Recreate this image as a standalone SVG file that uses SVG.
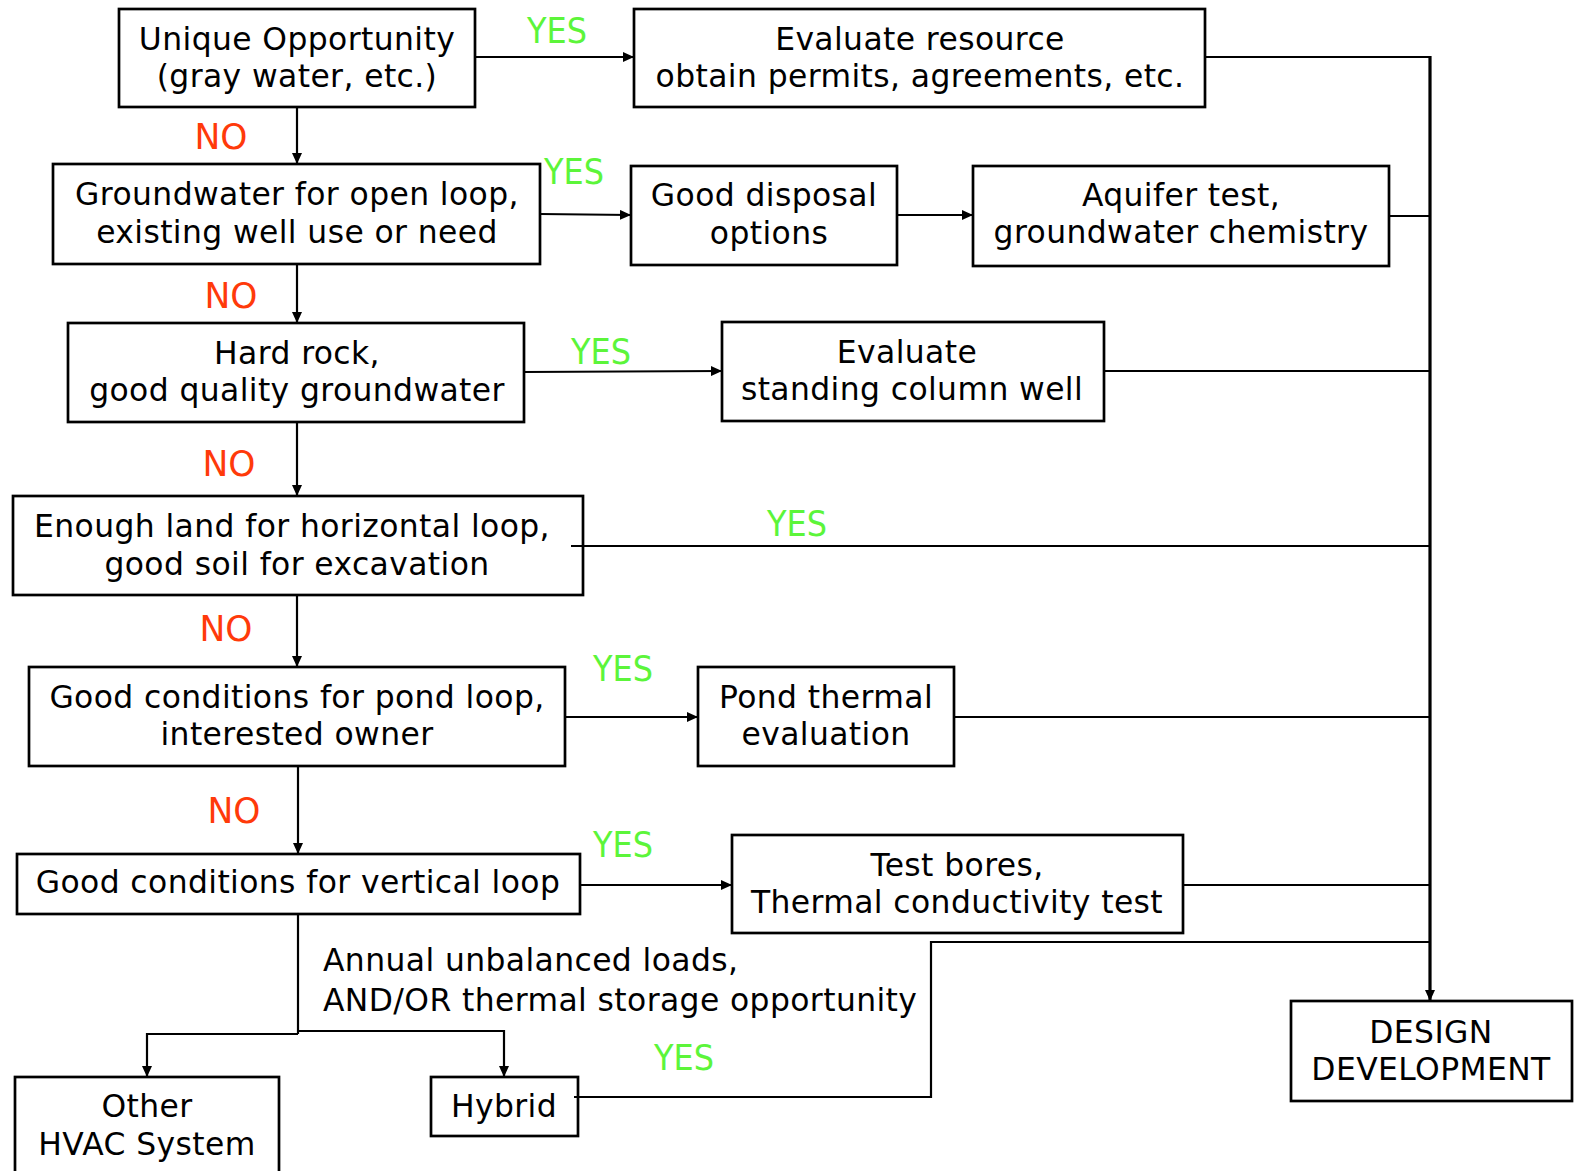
<svg xmlns="http://www.w3.org/2000/svg" width="1578" height="1171" viewBox="0 0 1578 1171">
<defs>
<marker id="ah" markerUnits="userSpaceOnUse" markerWidth="11" markerHeight="10" refX="11" refY="5" orient="auto">
<path d="M0,0 L11,5 L0,10 z" fill="#000"/>
</marker>
<style>
.box{fill:#fff;stroke:#000;stroke-width:2.7}
.t{font-family:"DejaVu Sans","Verdana",sans-serif;font-size:31.4px;letter-spacing:0.4px;fill:#000;text-anchor:middle}
.tl{text-anchor:start}
.yes{font-family:"DejaVu Sans",sans-serif;font-size:36px;fill:#5CF53A;text-anchor:middle}
.no{font-family:"DejaVu Sans",sans-serif;font-size:35px;fill:#FF3A0A;text-anchor:middle}
.c{fill:none;stroke:#000;stroke-width:2.2}
.arr{marker-end:url(#ah)}
.trunk{fill:none;stroke:#000;stroke-width:3.2}
</style>
</defs>
<rect width="1578" height="1171" fill="#fff"/>

<g id="n-unique">
<rect class="box" x="119" y="9" width="356" height="98"/>
<text class="t" x="297" y="50">Unique Opportunity</text>
<text class="t" x="297" y="87">(gray water, etc.)</text>
</g>
<g id="n-evaluate-resource">
<rect class="box" x="634" y="9" width="571" height="98"/>
<text class="t" x="920" y="50">Evaluate resource</text>
<text class="t" x="920" y="87">obtain permits, agreements, etc.</text>
</g>
<g id="n-groundwater">
<rect class="box" x="53" y="164" width="487" height="100"/>
<text class="t" x="297" y="205">Groundwater for open loop,</text>
<text class="t" x="297" y="243">existing well use or need</text>
</g>
<g id="n-disposal">
<rect class="box" x="631" y="166" width="266" height="99"/>
<text class="t" x="764" y="206">Good disposal</text>
<text class="t" x="769" y="244">options</text>
</g>
<g id="n-aquifer">
<rect class="box" x="973" y="166" width="416" height="100"/>
<text class="t" x="1181" y="206">Aquifer test,</text>
<text class="t" x="1181" y="243">groundwater chemistry</text>
</g>
<g id="n-hardrock">
<rect class="box" x="68" y="323" width="456" height="99"/>
<text class="t" x="297" y="364">Hard rock,</text>
<text class="t" x="297" y="401">good quality groundwater</text>
</g>
<g id="n-scw">
<rect class="box" x="722" y="322" width="382" height="99"/>
<text class="t" x="907" y="363">Evaluate</text>
<text class="t" x="912" y="400">standing column well</text>
</g>
<g id="n-horizontal">
<rect class="box" x="13" y="496" width="570" height="99"/>
<text class="t" x="292" y="537">Enough land for horizontal loop,</text>
<text class="t" x="297" y="575">good soil for excavation</text>
</g>
<g id="n-pond">
<rect class="box" x="29" y="667" width="536" height="99"/>
<text class="t" x="297" y="708">Good conditions for pond loop,</text>
<text class="t" x="297" y="745">interested owner</text>
</g>
<g id="n-pond-eval">
<rect class="box" x="698" y="667" width="256" height="99"/>
<text class="t" x="826" y="708">Pond thermal</text>
<text class="t" x="826" y="745">evaluation</text>
</g>
<g id="n-vertical">
<rect class="box" x="17" y="854" width="563" height="60"/>
<text class="t" x="298" y="893">Good conditions for vertical loop</text>
</g>
<g id="n-testbores">
<rect class="box" x="732" y="835" width="451" height="98"/>
<text class="t" x="957" y="876">Test bores,</text>
<text class="t" x="957" y="913">Thermal conductivity test</text>
</g>
<g id="n-other">
<rect class="box" x="15" y="1077" width="264" height="110"/>
<text class="t" x="147" y="1117">Other</text>
<text class="t" x="147" y="1155">HVAC System</text>
</g>
<g id="n-hybrid">
<rect class="box" x="431" y="1077" width="147" height="59"/>
<text class="t" x="504" y="1117">Hybrid</text>
</g>
<g id="n-design">
<rect class="box" x="1291" y="1001" width="281" height="100"/>
<text class="t" x="1431" y="1043">DESIGN</text>
<text class="t" x="1431" y="1080">DEVELOPMENT</text>
</g>

<g id="connectors">
<line class="c arr" x1="475" y1="57" x2="634" y2="57"/>
<line class="c arr" x1="297" y1="107" x2="297" y2="164"/>
<line class="c arr" x1="540" y1="214" x2="631" y2="215"/>
<line class="c arr" x1="897" y1="215" x2="973" y2="215"/>
<line class="c arr" x1="297" y1="264" x2="297" y2="323"/>
<line class="c arr" x1="524" y1="372" x2="722" y2="371"/>
<line class="c arr" x1="297" y1="422" x2="297" y2="496"/>
<line class="c arr" x1="297" y1="595" x2="297" y2="667"/>
<line class="c arr" x1="565" y1="717" x2="698" y2="717"/>
<line class="c arr" x1="298" y1="766" x2="298" y2="854"/>
<line class="c arr" x1="580" y1="885" x2="732" y2="885"/>
<polyline class="c" points="298,914 298,1034"/>
<polyline class="c arr" points="298,1034 147,1034 147,1077"/>
<polyline class="c arr" points="298,1031 504,1031 504,1077"/>
<line class="c" x1="1205" y1="57" x2="1430" y2="57"/>
<line class="c" x1="1389" y1="216" x2="1430" y2="216"/>
<line class="c" x1="1104" y1="371" x2="1430" y2="371"/>
<line class="c" x1="571" y1="546" x2="1430" y2="546"/>
<line class="c" x1="954" y1="717" x2="1430" y2="717"/>
<line class="c" x1="1183" y1="885" x2="1430" y2="885"/>
<polyline class="c" points="574,1097 931,1097 931,942 1430,942"/>
<line class="trunk arr" x1="1430" y1="56" x2="1430" y2="1001"/>
</g>

<g id="labels">
<text class="yes" x="557" y="43" textLength="60" lengthAdjust="spacingAndGlyphs">YES</text>
<text class="no" x="221" y="149" textLength="53" lengthAdjust="spacingAndGlyphs">NO</text>
<text class="yes" x="574" y="184" textLength="60" lengthAdjust="spacingAndGlyphs">YES</text>
<text class="no" x="231" y="308" textLength="53" lengthAdjust="spacingAndGlyphs">NO</text>
<text class="yes" x="601" y="364" textLength="60" lengthAdjust="spacingAndGlyphs">YES</text>
<text class="no" x="229" y="476" textLength="53" lengthAdjust="spacingAndGlyphs">NO</text>
<text class="yes" x="797" y="536" textLength="60" lengthAdjust="spacingAndGlyphs">YES</text>
<text class="no" x="226" y="641" textLength="53" lengthAdjust="spacingAndGlyphs">NO</text>
<text class="yes" x="623" y="681" textLength="60" lengthAdjust="spacingAndGlyphs">YES</text>
<text class="no" x="234" y="823" textLength="53" lengthAdjust="spacingAndGlyphs">NO</text>
<text class="yes" x="623" y="857" textLength="60" lengthAdjust="spacingAndGlyphs">YES</text>
<text class="yes" x="684" y="1070" textLength="60" lengthAdjust="spacingAndGlyphs">YES</text>
<text class="t tl" x="323" y="971">Annual unbalanced loads,</text>
<text class="t tl" x="323" y="1011">AND/OR thermal storage opportunity</text>
</g>
</svg>
